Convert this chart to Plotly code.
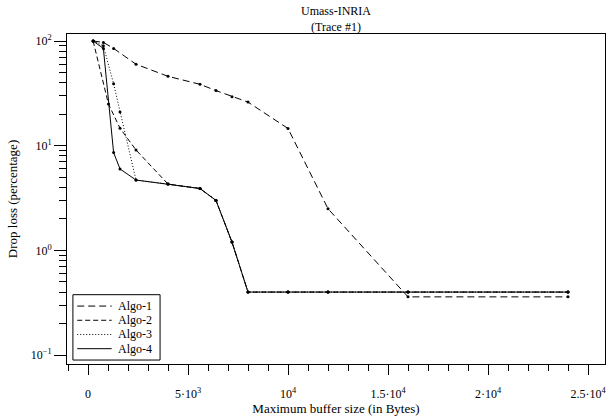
import plotly.graph_objects as go

# Maximum buffer size (bytes) and drop loss (%) per algorithm
x_algo1 = [256, 768, 1280, 2400, 4000, 5600, 6400, 7200, 8000, 10000, 12000, 16000, 24000]
y_algo1 = [100, 97, 85, 60, 46, 38.6, 33.6, 29.4, 26.1, 14.6, 2.5, 0.36, 0.36]

x_algo2 = [256, 1024, 1600, 2400, 4000, 5600, 6400, 7200, 8000, 10000, 12000, 16000, 24000]
y_algo2 = [100, 25, 14.7, 9.1, 4.3, 3.9, 3.0, 1.2, 0.40, 0.40, 0.40, 0.40, 0.40]

x_algo3 = [256, 768, 1280, 1600, 2400, 4000, 5600, 6400, 7200, 8000, 10000, 12000, 16000, 24000]
y_algo3 = [100, 90, 39, 21, 4.7, 4.3, 3.9, 3.0, 1.2, 0.40, 0.40, 0.40, 0.40, 0.40]

x_algo4 = [256, 768, 1280, 1600, 2400, 4000, 5600, 6400, 7200, 8000, 10000, 12000, 16000, 24000]
y_algo4 = [100, 85, 8.6, 6.0, 4.7, 4.3, 3.9, 3.0, 1.2, 0.40, 0.40, 0.40, 0.40, 0.40]

names = ["Algo-1", "Algo-2", "Algo-3", "Algo-4"]
dashes = ["7px,4px", "5px,3px", "1px,2px", "solid"]

x_tickvals = [0, 5000, 10000, 15000, 20000, 25000]
x_ticktext = ["0", "5·10<sup>3</sup>", "10<sup>4</sup>", "1.5·10<sup>4</sup>",
              "2·10<sup>4</sup>", "2.5·10<sup>4</sup>"]
y_tickvals = [0.1, 1, 10, 100]
y_ticktext = ["10<sup>−1</sup>", "10<sup>0</sup>", "10<sup>1</sup>", "10<sup>2</sup>"]
y_minor = [m * d for d in (0.1, 1, 10) for m in range(2, 10)]

FONT = "Liberation Serif, Times New Roman, serif"

fig = go.Figure()
series = [(x_algo1, y_algo1), (x_algo2, y_algo2), (x_algo3, y_algo3), (x_algo4, y_algo4)]
for (xs, ys), name, dash in zip(series, names, dashes):
    fig.add_trace(go.Scatter(
        x=xs, y=ys, name=name, mode="lines+markers", showlegend=False,
        line=dict(color="black", width=1, dash=dash),
        marker=dict(color="black", size=3, symbol="circle"),
    ))

# Compact boxed key in the lower-left corner (paper coordinates)
shapes = []
annotations = []
key_x0, key_x1 = 0.011, 0.173
key_y0, key_y1 = 0.012, 0.21
shapes.append(dict(type="rect", xref="paper", yref="paper",
                   x0=key_x0, x1=key_x1, y0=key_y0, y1=key_y1,
                   line=dict(color="black", width=1), fillcolor="white", layer="above"))
row_h = (key_y1 - key_y0) / 4.6
for i, (name, dash) in enumerate(zip(names, dashes)):
    yy = key_y1 - row_h * (0.8 + i)
    shapes.append(dict(type="line", xref="paper", yref="paper",
                       x0=key_x0 + 0.008, x1=key_x0 + 0.072, y0=yy, y1=yy,
                       line=dict(color="black", width=1, dash=dash), layer="above"))
    annotations.append(dict(text=name, xref="paper", yref="paper",
                            x=key_x0 + 0.08, y=yy, xanchor="left", yanchor="middle",
                            showarrow=False, font=dict(family=FONT, size=12)))

annotations.append(dict(
    text="Umass-INRIA<br>(Trace #1)", xref="paper", yref="paper",
    x=0.5, y=1, xanchor="center", yanchor="bottom", yshift=-2,
    showarrow=False, font=dict(family=FONT, size=12),
))

fig.update_layout(
    width=606, height=419,
    margin=dict(l=67, r=1, t=34, b=55),
    paper_bgcolor="white", plot_bgcolor="white",
    font=dict(family=FONT, size=12, color="black"),
    showlegend=False,
    shapes=shapes,
    annotations=annotations,
)

fig.update_xaxes(
    range=[-1050, 25850], showgrid=False, zeroline=False,
    showline=True, linecolor="black", linewidth=1, mirror=True,
    tickmode="array", tickvals=x_tickvals, ticktext=x_ticktext,
    ticks="outside", ticklen=10, tickcolor="black", ticklabelstandoff=9,
    ticklabeloverflow="allow",
    tickfont=dict(family=FONT, size=12),
    minor=dict(ticks="outside", dtick=1000, tick0=0, ticklen=6, tickcolor="black"),
    title=dict(text="Maximum buffer size (in Bytes)", font=dict(family=FONT, size=13), standoff=0),
)
fig.update_yaxes(
    type="log", range=[-1.085, 2.067], showgrid=False, zeroline=False,
    showline=True, linecolor="black", linewidth=1, mirror=True,
    tickmode="array", tickvals=y_tickvals, ticktext=y_ticktext,
    ticks="outside", ticklen=12, tickcolor="black",
    tickfont=dict(family=FONT, size=12),
    minor=dict(ticks="outside", tickvals=y_minor, ticklen=7, tickcolor="black"),
    title=dict(text="Drop loss (percentage)", font=dict(family=FONT, size=13), standoff=10),
)

fig.write_html("out.html")
